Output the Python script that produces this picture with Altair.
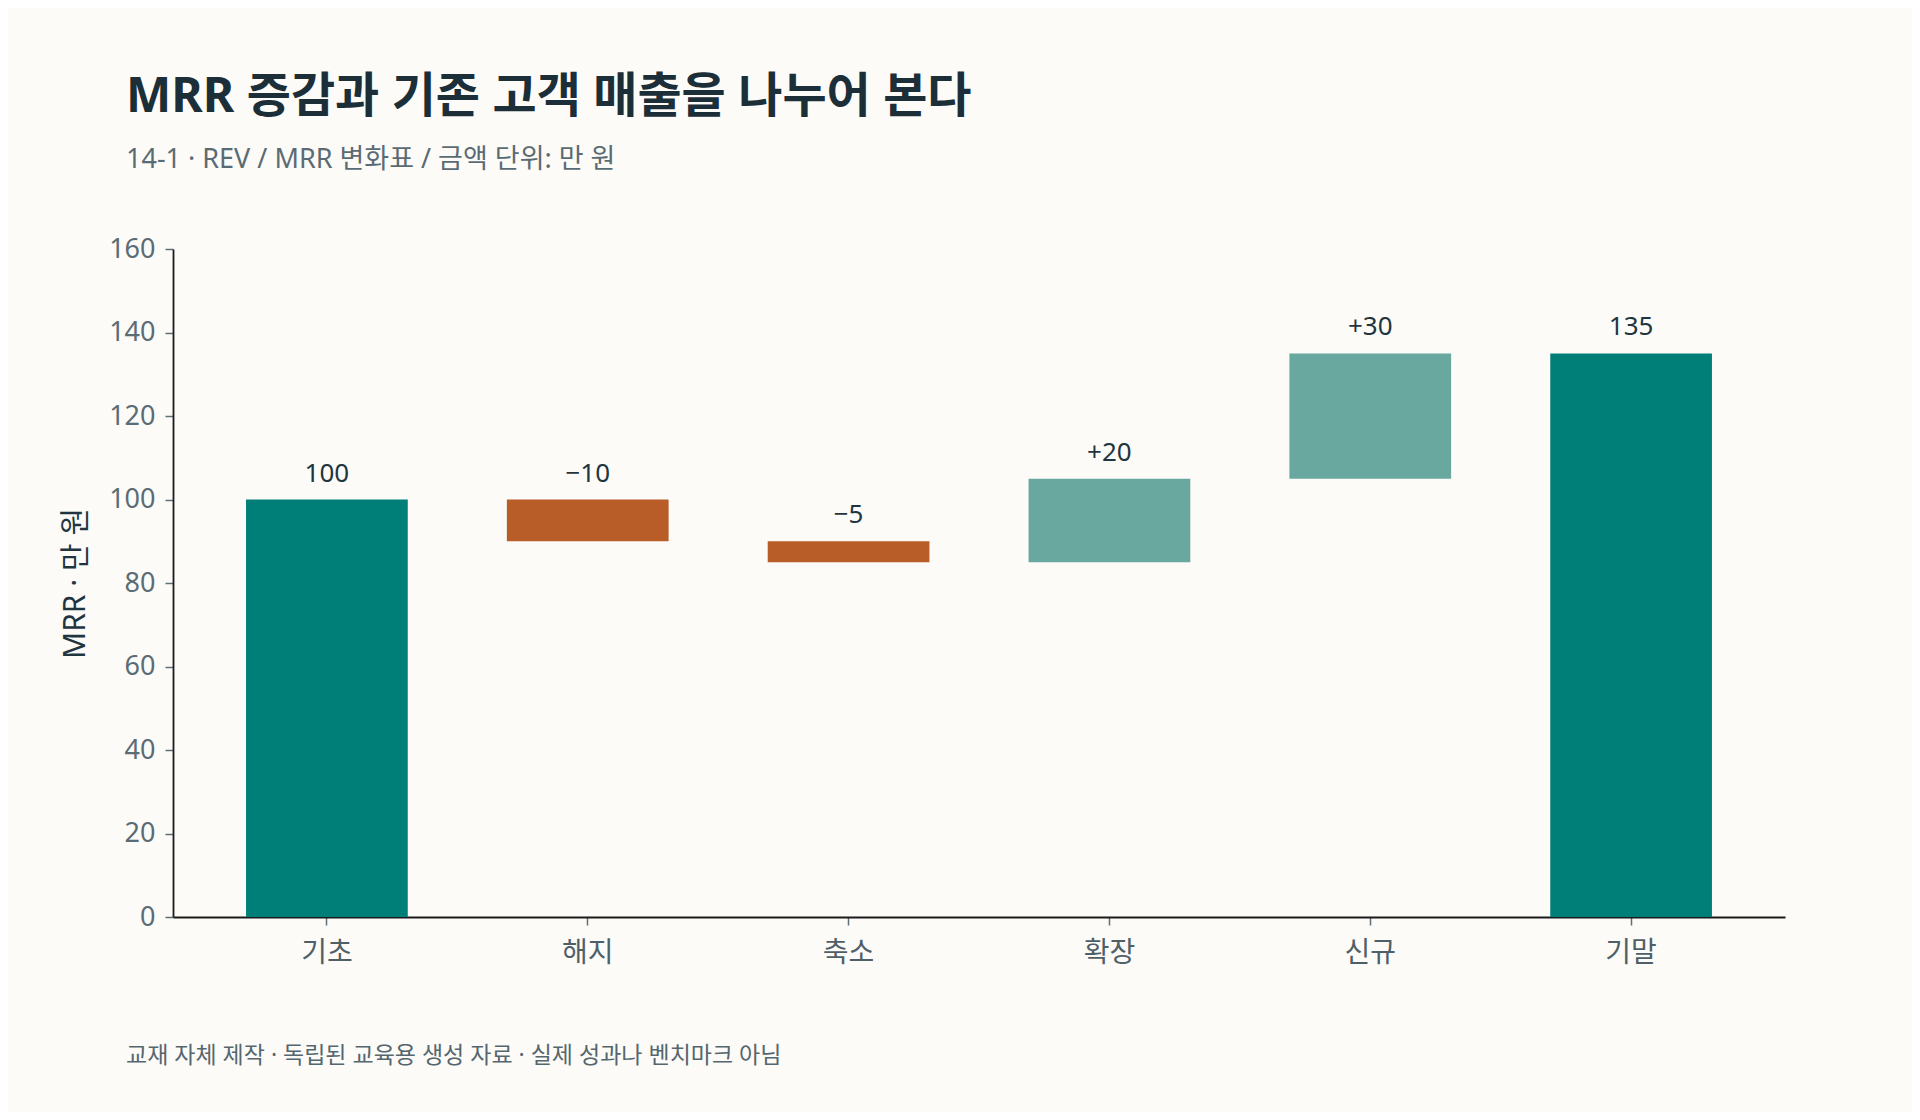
import altair as alt
import pandas as pd

categories = ["기초", "해지", "축소", "확장", "신규", "기말"]
changes = [100, -10, -5, 20, 30, 135]
kinds = ["total", "neg", "neg", "pos", "pos", "total"]
labels = ["100", "−10", "−5", "+20", "+30", "135"]

rows = []
running = 0
for cat, val, kind, lab in zip(categories, changes, kinds, labels):
    if kind == "total":
        start, end = 0, val
        running = val
    else:
        start, end = running, running + val
        running = end
    rows.append({"cat": cat, "start": start, "end": end, "top": max(start, end),
                 "kind": kind, "label": lab})
df = pd.DataFrame(rows)

FONT = "Noto Sans, Noto Sans CJK KR"
BG = "#fcfbf8"

color_scale = alt.Scale(domain=["total", "neg", "pos"],
                        range=["#007f79", "#b85c28", "#68a89e"])

x_enc = alt.X("cat:N", sort=categories, title=None,
              scale=alt.Scale(paddingInner=0.38, paddingOuter=0.28),
              axis=alt.Axis(labelAngle=0, labelFontSize=28, labelColor="#4e5f67",
                            labelPadding=14, tickSize=8, tickColor="#5f6f77",
                            tickWidth=1.5, domainColor="#1b1b1b", domainWidth=1.8))

bars = alt.Chart(df).mark_bar().encode(
    x=x_enc,
    y=alt.Y("start:Q", scale=alt.Scale(domain=[0, 160], nice=False),
            title="MRR · 만 원",
            axis=alt.Axis(values=list(range(0, 161, 20)), grid=False,
                          labelFontSize=27, labelColor="#5a6c75", labelPadding=10,
                          tickSize=8, tickColor="#5f6f77", tickWidth=1.5,
                          domainColor="#1b1b1b", domainWidth=1.8,
                          titleFontSize=30, titleColor="#1f3540",
                          titleFontWeight="normal", titlePadding=18)),
    y2="end:Q",
    color=alt.Color("kind:N", scale=color_scale, legend=None),
)

text = alt.Chart(df).mark_text(fontSize=26, color="#1f3540", baseline="alphabetic",
                               dy=-18, font=FONT).encode(
    x=alt.X("cat:N", sort=categories),
    y=alt.Y("top:Q"),
    text="label:N",
)

footer_df = pd.DataFrame({"t": ["교재 자체 제작 · 독립된 교육용 생성 자료 · 실제 성과나 벤치마크 아님"]})
footer = alt.Chart(footer_df).mark_text(align="left", baseline="alphabetic", fontSize=23,
                                        color="#55666e", font=FONT).encode(
    x=alt.value(-47), y=alt.value(814), text="t:N")

chart = alt.layer(bars, text, footer).properties(
    width=1612, height=668,
    autosize=alt.AutoSizeParams(type="none"),
    padding={"left": 165, "top": 241, "right": 127, "bottom": 195},
    background=BG,
    title=alt.TitleParams(
        text="MRR 증감과 기존 고객 매출을 나누어 본다",
        subtitle="14-1 · REV / MRR 변화표 / 금액 단위: 만 원",
        anchor="start", frame="group", dx=-47, offset=62,
        fontSize=48, fontWeight="bold", color="#1c2f38", font=FONT,
        subtitleFontSize=27, subtitleColor="#5b6b73", subtitleFont=FONT,
        subtitlePadding=25),
).configure(font=FONT).configure_view(stroke=None)

chart.save("out.html", embed_options={"renderer": "svg", "actions": False})
